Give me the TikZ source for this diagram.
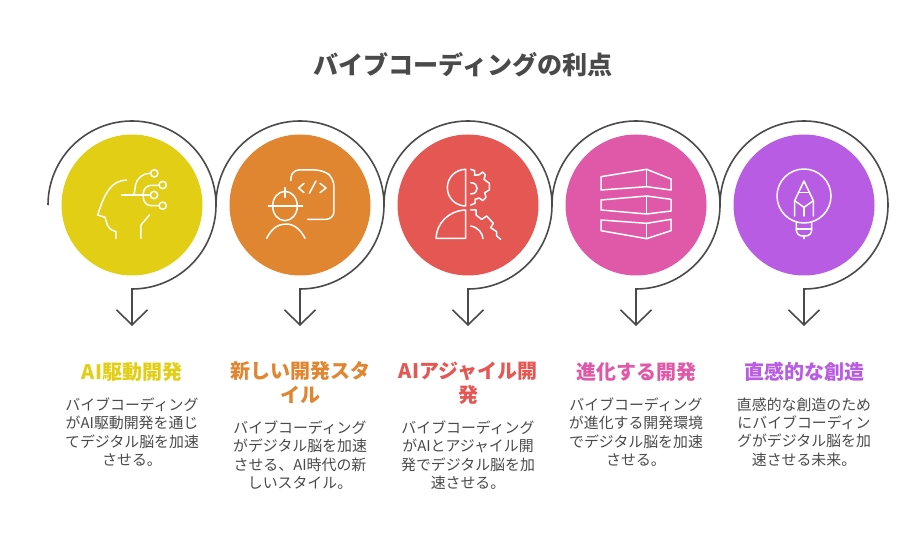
\documentclass[tikz,border=0pt]{standalone}
\usepackage{fontspec}
\setmainfont{Noto Sans CJK JP}
\usetikzlibrary{arrows.meta}
\definecolor{inkgray}{HTML}{4A4A4A}
\definecolor{ylw}{HTML}{E2CE14}
\definecolor{org}{HTML}{E08530}
\definecolor{rd}{HTML}{E55753}
\definecolor{pnk}{HTML}{E058A8}
\definecolor{prp}{HTML}{B85CE3}
\tikzset{
disc/.style={circle,minimum size=141pt,inner sep=0pt},
ring/.style={draw=inkgray,line width=1.6pt,-{Straight Barb[length=15pt,width=31pt,line width=1.6pt]}},
icon/.style={draw=white,line width=1.5pt,line join=round,line cap=round},
head/.style={align=center,text width=150pt,font=\fontsize{20}{24}\selectfont\bfseries},
body/.style={align=center,text width=150pt,text=inkgray,font=\fontsize{14.9}{18.4}\selectfont,anchor=north}
}
\begin{document}
\begin{tikzpicture}[x=1pt,y=-1pt]
\useasboundingbox (0,0) rectangle (924,540);

\node (title) at (463,65)[text=inkgray,font=\fontsize{25.1}{30}\selectfont\bfseries]{バイブコーディングの利点};

\foreach \x/\c in {1/ylw,2/org,3/rd,4/pnk,5/prp}
{
\node (disc\x) at (132+168*\x-168,205)[disc,fill=\c]{};
\coordinate (start\x) at (48+168*\x-168,205);
\coordinate (tip\x) at (132+168*\x-168,326);
\draw[ring] (start\x) arc[start angle=180,end angle=450,radius=84] -- (tip\x);
}

% head
\begin{scope}[shift={(30,110)},scale=1/3]
\draw[icon] (290,210) .. controls (245,212) and (225,245) .. (203,315) -- (225,322) .. controls (232,335) and (225,355) .. (258,365) -- (258,385);
\draw[icon] (333,385) -- (333,345) -- (358,315);
\draw[icon] (275,255) -- (361,255);
\draw[icon] (373,190) circle (11);
\draw[icon] (398,225) circle (11);
\draw[icon] (372,255) circle (11);
\draw[icon] (398,287) circle (11);
\draw[icon,rounded corners=12] (312,255) -- (322,190) -- (362,190);
\draw[icon,rounded corners=8] (387,226) -- (340,226) -- (340,287) -- (387,287);
\end{scope}

% worker
\begin{scope}[shift={(30,110)},scale=1/3]
\draw[icon,rounded corners=8] (783,212) -- (783,180) -- (880,180) -- (912,205) -- (912,328) -- (833,328);
\draw[icon] (822,220) -- (806,234) -- (822,248);
\draw[icon] (858,213) -- (838,250);
\draw[icon] (870,220) -- (888,234) -- (870,248);
\draw[icon] (765,288) ellipse (37 and 44);
\draw[icon] (715,288) -- (818,288);
\draw[icon] (765,233) -- (765,262);
\draw[icon] (710,385) .. controls (725,355) and (745,342) .. (767,342) .. controls (790,342) and (810,355) .. (825,385);
\end{scope}

% gear
\begin{scope}[shift={(380,110)},scale=1/3]
\draw[icon] (257,178) arc[start angle=-90,end angle=-270,radius=55] -- cycle;
\draw[icon] (257,300) .. controls (205,302) and (170,340) .. (168,385) -- (257,385) -- cycle;
\draw[icon] (272,178) -- (284,182) -- (284,196) -- (298,194) -- (308,186) -- (316,194) -- (312,208) -- (328,220) -- (328,240) -- (314,248) -- (318,262) -- (308,272) -- (298,264) -- (285,268) -- (285,280) -- (272,285);
\draw[icon] (272,218) .. controls (298,218) and (298,252) .. (272,252);
\draw[icon] (272,300) -- (288,300) -- (288,315) -- (305,328) -- (320,318) -- (340,340) -- (332,353) -- (350,365) -- (350,378) -- (362,388);
\draw[icon] (272,348) .. controls (295,352) and (308,370) .. (309,386);
\end{scope}

% layers
\begin{scope}[shift={(380,110)},scale=1/3]
\draw[icon] (663,200) -- (800,178) -- (873,207) -- (873,240) -- (800,230) -- (663,240) -- cycle;
\draw[icon] (800,178) -- (800,230);
\draw[icon] (663,270) -- (800,258) -- (873,268) -- (873,303) -- (800,312) -- (663,300) -- cycle;
\draw[icon] (800,258) -- (800,312);
\draw[icon] (663,330) -- (800,340) -- (873,328) -- (873,362) -- (800,386) -- (663,362) -- cycle;
\draw[icon] (800,340) -- (800,386);
\end{scope}

% bulb
\begin{scope}[shift={(720,120)},scale=1/3]
\draw[icon] (252,228) circle (81);
\draw[icon] (224,288) -- (224,242) -- (252,183) -- (280,242) -- (280,288);
\draw[icon] (224,242) -- (252,262) -- (280,242);
\draw[icon] (252,262) -- (252,288);
\draw[icon] (236,217) -- (268,217);
\draw[icon,rounded corners=6] (229,307) -- (229,348) -- (275,348) -- (275,307);
\draw[icon] (229,327) -- (275,327);
\draw[icon] (252,348) -- (252,356);
\end{scope}

\node (head1) at (132,372)[head,text=ylw]{AI駆動開発};
\node (head2) at (300,383)[head,text=org]{新しい開発スタ\\イル};
\node (head3) at (468,383)[head,text=rd]{AIアジャイル開\\発};
\node (head4) at (636,372)[head,text=pnk]{進化する開発};
\node (head5) at (804,372)[head,text=prp]{直感的な創造};

\node (body1) at (132,394)[body]{バイブコーディング\\がAI駆動開発を通じ\\てデジタル脳を加速\\させる。};
\node (body2) at (300,417)[body]{バイブコーディング\\がデジタル脳を加速\\させる、AI時代の新\\しいスタイル。};
\node (body3) at (468,417)[body]{バイブコーディング\\がAIとアジャイル開\\発でデジタル脳を加\\速させる。};
\node (body4) at (636,394)[body]{バイブコーディング\\が進化する開発環境\\でデジタル脳を加速\\させる。};
\node (body5) at (804,394)[body]{直感的な創造のため\\にバイブコーディン\\グがデジタル脳を加\\速させる未来。};

\end{tikzpicture}
\end{document}
